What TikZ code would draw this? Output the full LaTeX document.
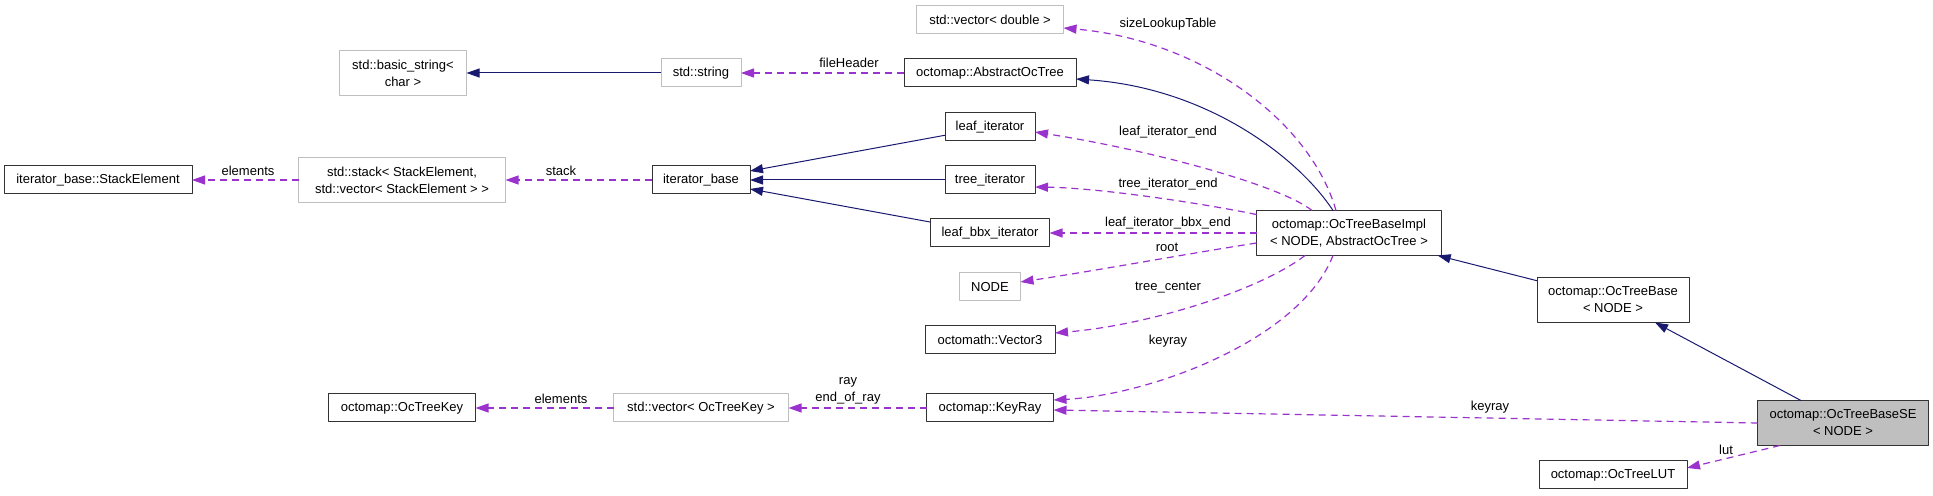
\documentclass[tikz,border=0pt]{standalone}
\usepackage{fontspec}
\setmainfont{Liberation Sans}
\usepackage{tikz}
\usetikzlibrary{arrows.meta,positioning,calc}
\definecolor{inhblue}{HTML}{191970}
\definecolor{usepurple}{HTML}{9A32CD}
\definecolor{boxgray}{HTML}{BFBFBF}

\begin{document}
\begin{tikzpicture}[x=0.5pt, y=-0.5pt, line join=round,
                    every node/.style={outer sep=0pt, font=\fontsize{6.5}{8.5}\selectfont}]

  \tikzset{
    cls/.style={draw=black!80, fill=white, line width=0.5pt, inner sep=0pt, align=center, minimum height=14pt},
    ext/.style={cls, draw=boxgray},
    cur/.style={cls, fill=boxgray},
    inh/.style={draw=inhblue, line width=0.5pt, -{Triangle[length=6.5pt,width=4.5pt,fill=inhblue]}},
    mem/.style={draw=usepurple, line width=0.6pt, dash pattern=on 3.5pt off 2.5pt,
                -{Triangle[length=6.5pt,width=4.5pt,fill=usepurple]}},
    lbl/.style={inner sep=0pt, align=center}
  }

  \useasboundingbox (0,0) rectangle (1933,496);

  % Classes
  \node[ext, minimum width=63.5pt, minimum height=22.5pt] (basicstr) at (403,73) {std::basic\_string<\\char >};
  \node[ext, minimum width=40pt] (str) at (701,73) {std::string};
  \node[cls, minimum width=86pt] (abstree) at (990,73) {octomap::AbstractOcTree};
  \node[ext, minimum width=73.5pt] (vecdbl) at (990,20) {std::vector< double >};
  \node[cls, minimum width=94pt] (stackel) at (98,180) {iterator\_base::StackElement};
  \node[ext, minimum width=103.5pt, minimum height=22.5pt] (stack) at (402,180) {std::stack< StackElement,\\std::vector< StackElement > >};
  \node[cls, minimum width=49pt] (itbase) at (701,180) {iterator\_base};
  \node[cls, minimum width=45pt] (leafit) at (990,127) {leaf\_iterator};
  \node[cls, minimum width=45pt] (treeit) at (990,180) {tree\_iterator};
  \node[cls, minimum width=59.5pt] (leafbbx) at (990,233) {leaf\_bbx\_iterator};
  \node[ext, minimum width=30.5pt] (nodecls) at (990,287) {NODE};
  \node[cls, minimum width=65pt] (vecthree) at (990,340) {octomath::Vector3};
  \node[cls, minimum width=63.5pt] (keyray) at (990,408) {octomap::KeyRay};
  \node[ext, minimum width=87.5pt] (veckey) at (701,408) {std::vector< OcTreeKey >};
  \node[cls, minimum width=73.5pt] (ockey) at (402,408) {octomap::OcTreeKey};
  \node[cls, minimum width=92.5pt, minimum height=22.5pt] (impl) at (1349,233) {octomap::OcTreeBaseImpl\\< NODE, AbstractOcTree >};
  \node[cls, minimum width=76pt, minimum height=22.5pt] (ocbase) at (1613,300) {octomap::OcTreeBase\\< NODE >};
  \node[cur, minimum width=85.5pt, minimum height=22.5pt] (ocse) at (1843,423) {octomap::OcTreeBaseSE\\< NODE >};
  \node[cls, minimum width=74pt] (lut) at (1613,475) {octomap::OcTreeLUT};

  % Inheritance
  \foreach \a/\b in {str/basicstr,leafit/itbase,treeit/itbase,leafbbx/itbase,ocbase/impl,ocse/ocbase}
    \draw[inh] (\a) -- (\b);
  \draw[inh] ([xshift=-8pt]impl.north) .. controls (1300,160) and (1210,88) .. ([yshift=-3pt]abstree.east);

  % Members
  \foreach \a/\b in {abstree/str,itbase/stack,stack/stackel,veckey/ockey,keyray/veckey,impl/leafbbx}
    \draw[mem] (\a) -- (\b);
  \draw[mem] (ocse.west) -- ([yshift=-1pt]keyray.east);
  \draw[mem] ([xshift=-6.5pt]impl.north) .. controls (1310,120) and (1200,40) .. ([yshift=-4pt]vecdbl.east);
  \draw[mem] ([xshift=-18.5pt]impl.north) .. controls (1280,185) and (1150,150) .. ([yshift=-2.5pt]leafit.east);
  \draw[mem] ([yshift=-2pt]impl.north west) .. controls (1200,203) and (1100,188) .. ([yshift=-3.5pt]treeit.east);
  \draw[mem] ([yshift=-5pt]impl.west) .. controls (1180,255) and (1100,270) .. ([yshift=2.5pt]nodecls.east);
  \draw[mem] ([xshift=-22pt]impl.south) .. controls (1260,290) and (1150,325) .. ([yshift=3.5pt]vecthree.east);
  \draw[mem] ([xshift=-8pt]impl.south) .. controls (1300,340) and (1150,395) .. ([yshift=4pt]keyray.east);
  \draw[mem] ([xshift=-31.5pt]ocse.south) -- ([yshift=3.5pt]lut.east);

  % Labels
  \node[lbl] (lfileheader) at (849,63) {fileHeader};
  \node[lbl] (lstack) at (561,171) {stack};
  \node[lbl] (lelemstack) at (248,171) {elements};
  \node[lbl] (lsize) at (1168,24) {sizeLookupTable};
  \node[lbl] (lleafend) at (1168,132) {leaf\_iterator\_end};
  \node[lbl] (ltreeend) at (1168,184) {tree\_iterator\_end};
  \node[lbl] (lbbxend) at (1168,223) {leaf\_iterator\_bbx\_end};
  \node[lbl] (lroot) at (1167,247) {root};
  \node[lbl] (lcenter) at (1168,288) {tree\_center};
  \node[lbl] (lkeyray) at (1168,341) {keyray};
  \node[lbl] (lray) at (848,391) {ray\\end\_of\_ray};
  \node[lbl] (lelemkey) at (561,399) {elements};
  \node[lbl] (lkeyrayse) at (1490,407) {keyray};
  \node[lbl] (llut) at (1726,450) {lut};
\end{tikzpicture}
\end{document}
